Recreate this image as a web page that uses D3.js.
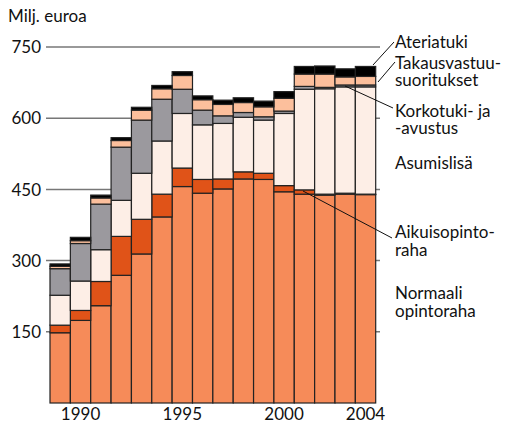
<!DOCTYPE html>
<html><head><meta charset="utf-8">
<script src="https://cdn.jsdelivr.net/npm/d3@7"></script>
<style>body{margin:0;background:#fff}svg{display:block}text{font-family:Lato,"Open Sans",sans-serif;fill:#111}</style>
</head><body><svg id="c" width="509" height="424"></svg>
<script>
const years = [1989,1990,1991,1992,1993,1994,1995,1996,1997,1998,1999,2000,2001,2002,2003,2004];
const normaali   = [148,174,205,269,314,392,456,442,451,472,471,445,440,438,440,439];
const aikuiso    = [16,21,51,82,73,48,39,29,21,15,13,13,9,2,2,1];
const asumislisa = [63,62,67,76,97,112,115,115,117,115,112,152,212,222,224,226];
const korkotuki  = [56,79,96,112,112,88,51,31,16,10,7,5,6,3,4,4];
const takaus     = [5,6,13,14,21,22,29,22,24,21,21,27,26,28,17,18];
const ateriatuki = [5,7,6,6,6,7,8,8,9,10,12,14,16,17,17,21];
const yTicks = [150,300,450,600,750];
const xLabels = [1990,1995,2000,2004];
const seriesNames = ["Normaali opintoraha","Aikuisopintoraha","Asumislisä","Korkotuki- ja -avustus","Takausvastuusuoritukset","Ateriatuki"];
const colors = ["#f68b59","#e05318","#fdeee6","#9b999e","#fcbf9c","#000000"];

const svg = d3.select("#c");
const x = d3.scaleBand().domain(years).range([50, 375.7]).padding(0);
const y = d3.scaleLinear().domain([0, 750]).range([403, 47]);

const table = years.map((yr,i)=>({year:yr, s0:normaali[i], s1:aikuiso[i], s2:asumislisa[i], s3:korkotuki[i], s4:takaus[i], s5:ateriatuki[i]}));
const stack = d3.stack().keys(["s0","s1","s2","s3","s4","s5"])(table);

// gridlines
svg.append("g").selectAll("line").data(yTicks).join("line")
  .attr("x1",46).attr("x2",380).attr("y1",d=>y(d)).attr("y2",d=>y(d))
  .attr("stroke","#777").attr("stroke-width",1.5);
svg.append("g").selectAll("text").data(yTicks).join("text")
  .attr("x",41).attr("y",d=>y(d)).attr("dy","0.36em").attr("text-anchor","end")
  .attr("font-size",17).text(d=>d);

svg.append("text").attr("x",8).attr("y",22).attr("font-size",17).text("Milj. euroa");

// bars
svg.append("g").selectAll("g").data(stack).join("g")
  .attr("fill",(d,i)=>colors[i])
  .selectAll("rect").data(d=>d).join("rect")
  .attr("x",d=>x(d.data.year)).attr("width",x.bandwidth())
  .attr("y",d=>y(d[1])).attr("height",d=>y(d[0])-y(d[1]))
  .attr("stroke","#222").attr("stroke-width",1.2);

// x labels
svg.append("g").selectAll("text").data(xLabels).join("text")
  .attr("x",d=>x(d)+x.bandwidth()/2).attr("y",420).attr("text-anchor","middle")
  .attr("font-size",17).text(d=>d);

// legend labels with leaders
const labels = [
  {lines:["Ateriatuki"], y:47.5, leader:[[373,65],[394,42]]},
  {lines:["Takausvastuu-","suoritukset"], y:68.5, leader:[[378,82],[395,62]]},
  {lines:["Korkotuki- ja","-avustus"], y:116.5, leader:[[345,86],[393,108]]},
  {lines:["Asumislisä"], y:169, leader:null},
  {lines:["Aikuisopinto-","raha"], y:238, leader:[[303,191],[392,238]]},
  {lines:["Normaali","opintoraha"], y:299, leader:null}
];
labels.forEach(l=>{
  l.lines.forEach((s,j)=>svg.append("text").attr("x",395).attr("y",l.y + j*17.5).attr("font-size",17).text(s));
  if(l.leader) svg.append("line").attr("x1",l.leader[0][0]).attr("y1",l.leader[0][1])
     .attr("x2",l.leader[1][0]).attr("y2",l.leader[1][1]).attr("stroke","#111").attr("stroke-width",1);
});
</script></body></html>
